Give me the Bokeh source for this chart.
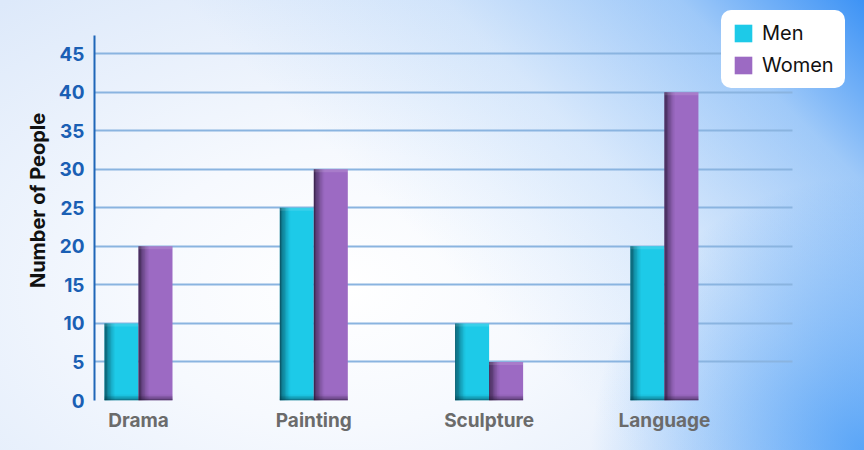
from bokeh.plotting import figure
from bokeh.models import Legend, LegendItem, FixedTicker, GlobalInlineStyleSheet, Grid
from bokeh.embed import file_html
from bokeh.resources import INLINE

categories = ["Drama", "Painting", "Sculpture", "Language"]
men = [10, 25, 10, 20]
women = [20, 30, 5, 40]
y_ticks = [0, 5, 10, 15, 20, 25, 30, 35, 40, 45]

FONT = "Inter"
MEN_C = "#1dcae8"
WOMEN_C = "#9c6ac3"

W, H = 848, 434
X0, X1 = -0.251, 4.05
GRID_X1 = 3.730
Y0, Y1 = 0, 51.9
p = figure(width=W, height=H, output_backend="svg", toolbar_location=None,
           x_range=(X0, X1), y_range=(Y0, Y1),
           min_border_left=94, min_border_right=0, min_border_top=0, min_border_bottom=29)
p.background_fill_alpha = 0
p.border_fill_alpha = 0
p.outline_line_color = None

css = """
html, body {
  min-height: 100%;
  background:
    radial-gradient(circle at 100% 100%, rgba(70,155,247,0.85) 0%, rgba(70,155,247,0.0) 28%),
    linear-gradient(225deg, rgba(52,142,245,0.95) 0%, rgba(95,168,247,0.5) 14%, rgba(150,198,249,0.25) 32%, rgba(170,208,250,0.0) 52%),
    radial-gradient(ellipse 65% 80% at 40% 64%, #ffffff 0%, #f6f9fe 38%, #dde9fa 100%);
  background-color: #e6eefb;
}
"""
p.stylesheets = [GlobalInlineStyleSheet(css=css)]

px_x = 1 / 175.3
px_y = 1 / 7.8
bw = 34 * px_x

xs_m = [i - bw / 2 for i in range(len(categories))]
xs_w = [i + bw / 2 for i in range(len(categories))]

# grid
p.xgrid.grid_line_color = None
if "cross_bounds" in Grid.properties():
    p.ygrid.ticker = FixedTicker(ticks=y_ticks)
    p.ygrid.grid_line_color = "#8ab4e0"
    p.ygrid.grid_line_width = 2
    p.ygrid.cross_bounds = (X0, GRID_X1)
else:
    p.ygrid.grid_line_color = None
    p.segment(x0=[X0] * len(y_ticks), x1=[GRID_X1] * len(y_ticks), y0=y_ticks, y1=y_ticks,
              line_color="#8ab4e0", line_width=2)

r_men = p.vbar(x=xs_m, top=men, bottom=0, width=bw, fill_color=MEN_C, line_color=None)
r_women = p.vbar(x=xs_w, top=women, bottom=0, width=bw, fill_color=WOMEN_C, line_color=None)

# 3D-ish shading strips (left dark edge, bottom dark, light top)
alphas = [0.72, 0.6, 0.48, 0.37, 0.27, 0.18, 0.1, 0.04]
for xs, vals, dark in ((xs_m, men, "#04303c"), (xs_w, women, "#1a0f26")):
    for k, a in enumerate(alphas):
        p.vbar(x=[x - bw / 2 + (k + 0.5) * 1.3 * px_x for x in xs], top=vals, bottom=0,
               width=1.3 * px_x, fill_color=dark, fill_alpha=a, line_color=None)
    for k, a in enumerate([0.45, 0.32, 0.2, 0.1]):
        p.vbar(x=xs, top=[(k + 1) * 1.5 * px_y] * len(xs), bottom=0, width=bw,
               fill_color=dark, fill_alpha=a * 0.6, line_color=None)
    p.vbar(x=xs, top=vals, bottom=[v - 3 * px_y for v in vals], width=bw,
           fill_color="#ffffff", fill_alpha=0.12, line_color=None)

# y axis
p.yaxis.ticker = FixedTicker(ticks=y_ticks)
p.yaxis.bounds = (0, 47.4)
p.yaxis.axis_line_color = "#1f66b8"
p.yaxis.axis_line_width = 2
p.yaxis.major_tick_line_color = None
p.yaxis.major_tick_out = 0
p.yaxis.major_tick_in = 0
p.yaxis.minor_tick_line_color = None
p.yaxis.major_label_standoff = 10
p.yaxis.major_label_text_font = FONT
p.yaxis.major_label_text_font_style = "bold"
p.yaxis.major_label_text_font_size = "19px"
p.yaxis.major_label_text_color = "#1a5fb4"
p.yaxis.axis_label = "Number of People"
p.yaxis.axis_label_text_font = FONT
p.yaxis.axis_label_text_font_style = "bold"
p.yaxis.axis_label_text_font_size = "20px"
p.yaxis.axis_label_text_color = "#111111"
p.yaxis.axis_label_standoff = 6

# x axis
p.xaxis.ticker = FixedTicker(ticks=list(range(len(categories))))
p.xaxis.major_label_overrides = {i: c for i, c in enumerate(categories)}
p.xaxis.axis_line_color = None
p.xaxis.major_tick_line_color = None
p.xaxis.major_tick_out = 0
p.xaxis.major_tick_in = 0
p.xaxis.minor_tick_line_color = None
p.xaxis.major_label_standoff = 8
p.xaxis.major_label_text_font = FONT
p.xaxis.major_label_text_font_style = "bold"
p.xaxis.major_label_text_font_size = "19px"
p.xaxis.major_label_text_color = "#6b6b6b"

legend = Legend(items=[LegendItem(label="Men", renderers=[r_men]),
                       LegendItem(label="Women", renderers=[r_women])],
                location=(627, 312))
legend.background_fill_color = "white"
legend.background_fill_alpha = 1
legend.border_line_color = "white"
legend.border_line_alpha = 0
legend.label_text_font = FONT
legend.label_text_font_size = "20px"
legend.label_text_color = "#111111"
legend.glyph_width = 22
legend.glyph_height = 22
legend.label_height = 24
legend.spacing = 8
legend.padding = 11
legend.margin = 0
legend.label_standoff = 8
if "border_radius" in Legend.properties():
    legend.border_radius = 10
p.add_layout(legend, "center")

open("out.html", "w").write(file_html(p, INLINE))
